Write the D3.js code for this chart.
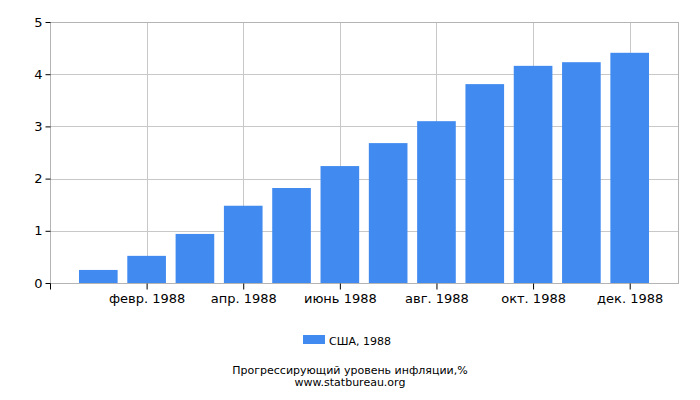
<!DOCTYPE html>
<html>
<head>
<meta charset="utf-8">
<script src="https://cdn.jsdelivr.net/npm/d3@7"></script>
<style>
  body { margin: 0; background: #fff; }
  svg { display: block; font-family: "DejaVu Sans", sans-serif; }
</style>
</head>
<body>
<div id="chart"></div>
<script>
// inflation data, USA 1988 (cumulative, %)
const months = [1, 2, 3, 4, 5, 6, 7, 8, 9, 10, 11, 12];
const values = [0.25, 0.52, 0.94, 1.48, 1.82, 2.24, 2.68, 3.1, 3.81, 4.16, 4.23, 4.41];
const tickMonths = [2, 4, 6, 8, 10, 12];
const tickLabels = ["февр. 1988", "апр. 1988", "июнь 1988", "авг. 1988", "окт. 1988", "дек. 1988"];
const yTicks = [0, 1, 2, 3, 4, 5];
const seriesName = "США, 1988";

const W = 700, H = 400;
const margin = { top: 22, right: 22, bottom: 117, left: 50 };
const width = W - margin.left - margin.right;
const height = H - margin.top - margin.bottom;

const svg = d3.select("#chart")
  .append("svg")
  .attr("width", W)
  .attr("height", H);

const chart = svg.append("g")
  .attr("transform", `translate(${margin.left},${margin.top})`);

const x = d3.scaleLinear().domain([0, 13]).range([0, width]);
const y = d3.scaleLinear().domain([0, 5]).range([height, 0]);
const step = x(1) - x(0);
const barW = step * 0.8;

// horizontal grid
chart.append("g")
  .selectAll("line")
  .data(yTicks)
  .join("line")
  .attr("x1", 0)
  .attr("x2", width)
  .attr("y1", (d) => Math.round(y(d)) + 0.5)
  .attr("y2", (d) => Math.round(y(d)) + 0.5)
  .attr("stroke", "#c8c8c8");

// vertical grid
chart.append("g")
  .selectAll("line")
  .data(tickMonths)
  .join("line")
  .attr("x1", (d) => Math.round(x(d)) + 0.5)
  .attr("x2", (d) => Math.round(x(d)) + 0.5)
  .attr("y1", 0)
  .attr("y2", height)
  .attr("stroke", "#c8c8c8");

// frame
chart.append("rect")
  .attr("x", 0.5)
  .attr("y", 0.5)
  .attr("width", width)
  .attr("height", height)
  .attr("fill", "none")
  .attr("stroke", "#b4b4b4");

// bars
chart.append("g")
  .selectAll("rect")
  .data(months)
  .join("rect")
  .attr("x", (d) => x(d) - barW / 2)
  .attr("width", barW)
  .attr("y", (d, i) => y(values[i]))
  .attr("height", (d, i) => y(0) - y(values[i]))
  .attr("fill", "#418bf0");

// y axis
const yAxis = chart.append("g")
  .attr("transform", "translate(0.5,0)")
  .call(d3.axisLeft(y).tickValues(yTicks).tickSize(5).tickFormat(d3.format("d")));
yAxis.select(".domain").remove();
yAxis.selectAll(".tick line").attr("stroke", "#000");
yAxis.selectAll(".tick text")
  .attr("x", -8)
  .style("font-size", "13px")
  .style("font-family", "DejaVu Sans")
  .attr("fill", "#000");

// x axis
const xAxis = chart.append("g")
  .attr("transform", `translate(0,${height + 0.5})`)
  .call(d3.axisBottom(x)
    .tickValues([0].concat(tickMonths))
    .tickSize(6)
    .tickFormat((d) => (d === 0 ? "" : tickLabels[tickMonths.indexOf(d)])));
xAxis.select(".domain").remove();
xAxis.selectAll(".tick line").attr("stroke", "#000");
xAxis.selectAll(".tick text")
  .attr("y", 10)
  .style("font-size", "13px")
  .style("font-family", "DejaVu Sans")
  .attr("fill", "#000");

// legend
const legend = svg.append("g").attr("transform", "translate(303,335)");
legend.append("rect")
  .attr("width", 22)
  .attr("height", 9)
  .attr("fill", "#418bf0");
legend.append("text")
  .attr("x", 26)
  .attr("y", 9.5)
  .style("font-size", "11px")
  .attr("fill", "#000")
  .text(seriesName);

// footer
svg.append("text")
  .attr("x", 350)
  .attr("y", 374)
  .attr("text-anchor", "middle")
  .style("font-size", "11px")
  .attr("fill", "#000")
  .text("Прогрессирующий уровень инфляции,%");

svg.append("text")
  .attr("x", 350)
  .attr("y", 385.5)
  .attr("text-anchor", "middle")
  .style("font-size", "11px")
  .attr("fill", "#000")
  .text("www.statbureau.org");
</script>
</body>
</html>
